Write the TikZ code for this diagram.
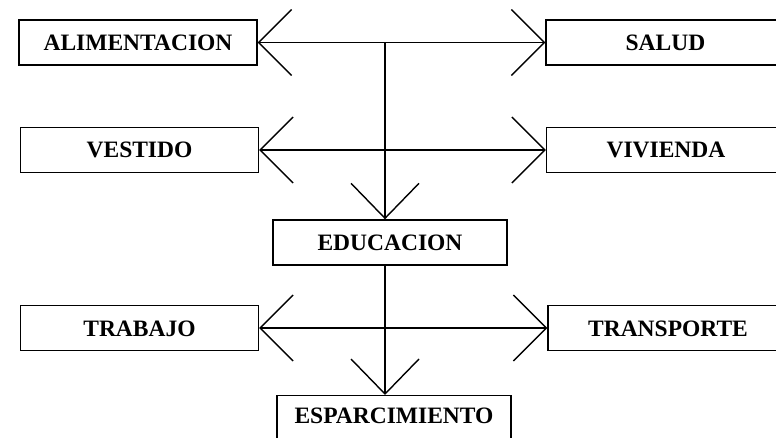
\documentclass[tikz,border=0pt]{standalone}
\usepackage{fontspec}
\setmainfont{Liberation Serif}
\usetikzlibrary{arrows.meta}
\tikzset{
  box/.style={draw, line width=1.4pt, minimum height=45pt, minimum width=238pt,
    inner sep=0pt, text height=16pt, text depth=0pt,
    font=\bfseries\fontsize{23.5}{28}\selectfont},
  link/.style={line width=1.4pt, {Straight Barb[length=33pt 0 0,width=66pt 0 0]}-{Straight Barb[length=33pt 0 0,width=66pt 0 0]}},
  down/.style={line width=1.4pt, -{Straight Barb[length=35pt 0 0,width=68pt 0 0]}}
}
\begin{document}
\begin{tikzpicture}[x=1pt,y=-1pt]
\useasboundingbox (0,0) rectangle (776,438);
\clip (0,0) rectangle (776,438);
\node[box] (alim) at (138,42.5) {ALIMENTACION};
\node[box, minimum width=239pt] (salud) at (665.5,42.5) {SALUD};
\node[box] (vest) at (139.5,150) {VESTIDO};
\node[box, minimum width=239pt] (viv) at (666,150) {VIVIENDA};
\node[box, minimum width=234pt] (educ) at (390,242.5) {EDUCACION};
\node[box] (trab) at (139.5,328) {TRABAJO};
\node[box, minimum width=240pt] (trans) at (668,328) {TRANSPORTE};
\node[box, minimum width=234pt, minimum height=0pt, inner ysep=12pt, text depth=30pt, anchor=north] (esp) at (394,395) {ESPARCIMIENTO};
\coordinate (hub) at (385,42.5);
\draw[link] (alim.east) -- (salud.west);
\draw[link] (vest.east) -- (viv.west);
\draw[link] (trab.east) -- (trans.west);
\draw[down] (hub) -- (hub |- educ.north);
\draw[down] (hub |- educ.south) -- (hub |- esp.north);
\end{tikzpicture}
\end{document}
